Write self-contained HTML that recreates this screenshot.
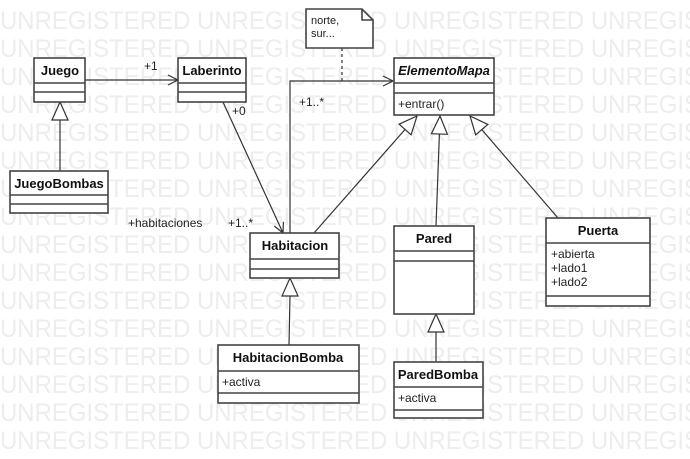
<!DOCTYPE html>
<html><head><meta charset="utf-8"><style>
html,body{margin:0;padding:0;background:#fff;}
svg{display:block;font-family:"Liberation Sans",sans-serif;}
</style></head><body>
<svg width="690" height="459" viewBox="0 0 690 459" xmlns="http://www.w3.org/2000/svg">
<g fill="#ededed" font-size="25" font-family="Liberation Sans, sans-serif">
<text x="0" y="29" textLength="700" lengthAdjust="spacingAndGlyphs">UNREGISTERED UNREGISTERED UNREGISTERED UNREGIS</text>
<text x="0" y="57" textLength="700" lengthAdjust="spacingAndGlyphs">UNREGISTERED UNREGISTERED UNREGISTERED UNREGIS</text>
<text x="0" y="85" textLength="700" lengthAdjust="spacingAndGlyphs">UNREGISTERED UNREGISTERED UNREGISTERED UNREGIS</text>
<text x="0" y="113" textLength="700" lengthAdjust="spacingAndGlyphs">UNREGISTERED UNREGISTERED UNREGISTERED UNREGIS</text>
<text x="0" y="141" textLength="700" lengthAdjust="spacingAndGlyphs">UNREGISTERED UNREGISTERED UNREGISTERED UNREGIS</text>
<text x="0" y="169" textLength="700" lengthAdjust="spacingAndGlyphs">UNREGISTERED UNREGISTERED UNREGISTERED UNREGIS</text>
<text x="0" y="197" textLength="700" lengthAdjust="spacingAndGlyphs">UNREGISTERED UNREGISTERED UNREGISTERED UNREGIS</text>
<text x="0" y="225" textLength="700" lengthAdjust="spacingAndGlyphs">UNREGISTERED UNREGISTERED UNREGISTERED UNREGIS</text>
<text x="0" y="253" textLength="700" lengthAdjust="spacingAndGlyphs">UNREGISTERED UNREGISTERED UNREGISTERED UNREGIS</text>
<text x="0" y="281" textLength="700" lengthAdjust="spacingAndGlyphs">UNREGISTERED UNREGISTERED UNREGISTERED UNREGIS</text>
<text x="0" y="309" textLength="700" lengthAdjust="spacingAndGlyphs">UNREGISTERED UNREGISTERED UNREGISTERED UNREGIS</text>
<text x="0" y="337" textLength="700" lengthAdjust="spacingAndGlyphs">UNREGISTERED UNREGISTERED UNREGISTERED UNREGIS</text>
<text x="0" y="365" textLength="700" lengthAdjust="spacingAndGlyphs">UNREGISTERED UNREGISTERED UNREGISTERED UNREGIS</text>
<text x="0" y="393" textLength="700" lengthAdjust="spacingAndGlyphs">UNREGISTERED UNREGISTERED UNREGISTERED UNREGIS</text>
<text x="0" y="421" textLength="700" lengthAdjust="spacingAndGlyphs">UNREGISTERED UNREGISTERED UNREGISTERED UNREGIS</text>
<text x="0" y="449" textLength="700" lengthAdjust="spacingAndGlyphs">UNREGISTERED UNREGISTERED UNREGISTERED UNREGIS</text>
</g>

<g stroke="#333" stroke-width="1.2" fill="none">
<line x1="85" y1="80" x2="178" y2="80"/>
<polyline points="168,75 178,80 168,85"/>
<line x1="223" y1="102" x2="283" y2="233"/>
<polyline points="283.4,221.8 283,233 274.3,226"/>
<polyline points="290,233 290,81 393,81"/>
<polyline points="383,76 393,81 383,86"/>
<line x1="342" y1="48" x2="342" y2="81" stroke-dasharray="3,3"/>
<line x1="60" y1="120" x2="60" y2="171"/>
<line x1="405" y1="129.5" x2="314" y2="233"/>
<line x1="439.4" y1="134" x2="436" y2="226"/>
<line x1="481.8" y1="129.6" x2="558" y2="218"/>
<line x1="290" y1="296" x2="289" y2="345"/>
<line x1="436" y1="332" x2="436" y2="362"/>
</g>
<g stroke="#333" stroke-width="1.2" fill="#fff">
<polygon points="60,102 52,120 68,120"/>
<polygon points="417,116 411.1,134.8 399.1,124.2"/>
<polygon points="440,116 431.4,133.7 447.4,134.3"/>
<polygon points="470,116 487.9,124.4 475.7,134.8"/>
<polygon points="290,278 282,296 298,296"/>
<polygon points="436,314 428,332 444,332"/>
</g>

<g stroke="#444" stroke-width="1.6" fill="#fff">
<rect x="34" y="58" width="51" height="44"/><line x1="34" y1="83" x2="85" y2="83"/><line x1="34" y1="92" x2="85" y2="92"/>
<rect x="178" y="58" width="68" height="44"/><line x1="178" y1="83" x2="246" y2="83"/><line x1="178" y1="92" x2="246" y2="92"/>
<rect x="10" y="171" width="98" height="42"/><line x1="10" y1="195" x2="108" y2="195"/><line x1="10" y1="204" x2="108" y2="204"/>
<rect x="394" y="58" width="100" height="57"/><line x1="394" y1="83" x2="494" y2="83"/><line x1="394" y1="93" x2="494" y2="93"/>
<rect x="250" y="233" width="89" height="45"/><line x1="250" y1="259" x2="339" y2="259"/><line x1="250" y1="269" x2="339" y2="269"/>
<rect x="394" y="226" width="80" height="88"/><line x1="394" y1="251" x2="474" y2="251"/><line x1="394" y1="261" x2="474" y2="261"/>
<rect x="546" y="218" width="104" height="88"/><line x1="546" y1="243" x2="650" y2="243"/><line x1="546" y1="296" x2="650" y2="296"/>
<rect x="218" y="345" width="141" height="58"/><line x1="218" y1="371" x2="359" y2="371"/><line x1="218" y1="393" x2="359" y2="393"/>
<rect x="394" y="362" width="89" height="56"/><line x1="394" y1="387" x2="483" y2="387"/><line x1="394" y1="410" x2="483" y2="410"/>
<polygon points="306,9 362,9 373,20 373,48 306,48"/>
<polyline points="362,9 362,20 373,20" fill="none"/>
</g>

<g fill="#111" font-size="13" font-weight="bold" text-anchor="middle">
<text x="60" y="75">Juego</text>
<text x="212" y="75">Laberinto</text>
<text x="59" y="188">JuegoBombas</text>
<text x="295" y="250">Habitacion</text>
<text x="434" y="243">Pared</text>
<text x="598" y="235">Puerta</text>
<text x="288" y="362">HabitacionBomba</text>
<text x="438" y="379">ParedBomba</text>
<text x="444" y="75" font-style="italic">ElementoMapa</text>
</g>
<g fill="#222" font-size="12">
<text x="398" y="108">+entrar()</text>
<text x="551" y="258">+abierta</text>
<text x="551" y="272">+lado1</text>
<text x="551" y="286">+lado2</text>
<text x="222" y="386">+activa</text>
<text x="398" y="402">+activa</text>
<text x="311" y="24" font-size="11">norte,</text>
<text x="311" y="37" font-size="11">sur...</text>
<text x="144" y="70">+1</text>
<text x="232" y="115">+0</text>
<text x="299" y="106">+1..*</text>
<text x="128" y="227">+habitaciones</text>
<text x="228" y="227">+1..*</text>
</g>
</svg>
</body></html>
